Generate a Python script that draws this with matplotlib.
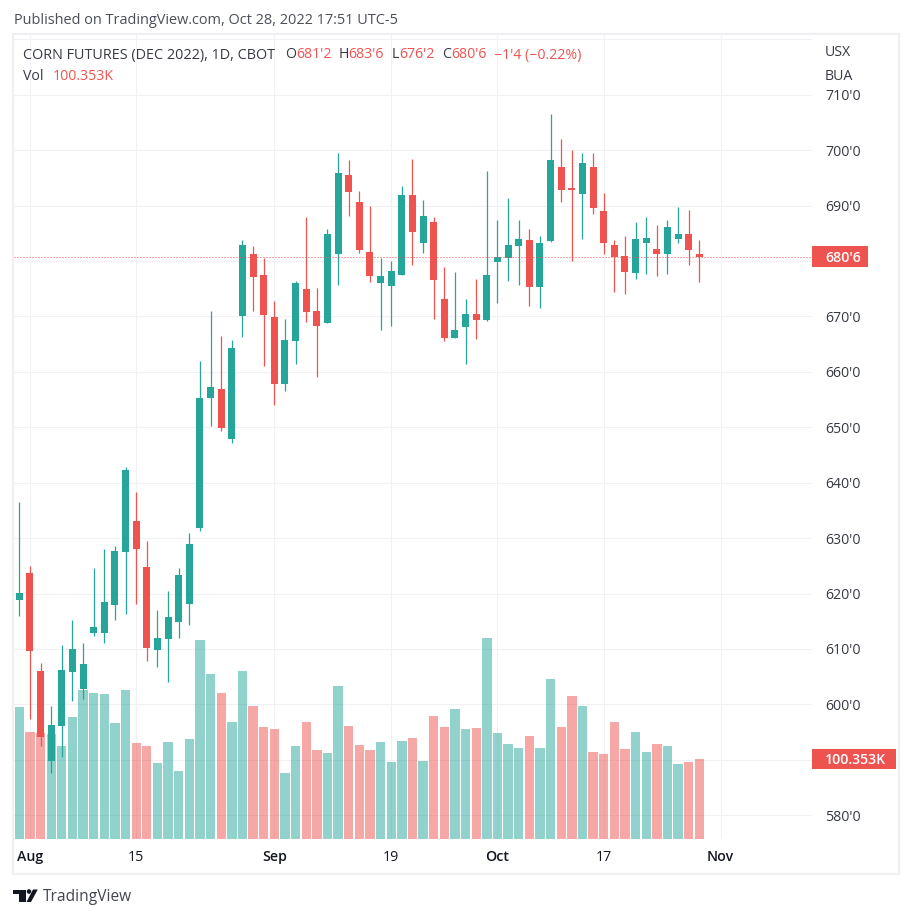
#!/usr/bin/env python3
"""Daily corn futures candles with volume, TradingView snapshot look."""
import matplotlib
matplotlib.use("Agg")
import matplotlib.pyplot as plt
import numpy as np
from matplotlib.patches import Circle, Polygon, Rectangle

opens = [618.8, 623.7, 606.0, 589.8, 596.1, 605.8, 602.8, 612.9, 612.9, 617.9, 627.5, 633.1, 624.8,
         609.8, 611.8, 614.9, 618.1, 631.8, 655.3, 656.9, 647.9, 670.1, 681.3, 677.5, 669.9, 657.8,
         665.6, 675.0, 671.0, 668.8, 681.3, 695.5, 690.7, 681.6, 676.0, 675.5, 677.5, 691.9, 683.3,
         687.1, 673.2, 666.1, 668.1, 670.4, 669.4, 679.8, 680.6, 682.7, 683.8, 675.3, 683.6, 697.0,
         693.2, 692.1, 697.0, 689.0, 682.9, 680.9, 677.9, 683.3, 682.2, 681.3, 684.0, 684.9, 681.25]
highs = [636.5, 625.0, 607.5, 599.7, 610.7, 615.2, 611.1, 624.6, 628.0, 628.6, 642.8, 638.3, 629.5,
         617.0, 620.4, 624.6, 630.9, 662.0, 671.0, 666.5, 665.8, 683.8, 682.7, 680.6, 672.8, 669.5,
         676.4, 688.0, 675.1, 685.8, 699.5, 698.2, 692.6, 689.9, 680.6, 680.0, 693.6, 698.4, 691.0,
         688.0, 678.9, 678.0, 673.2, 676.8, 696.3, 687.4, 691.4, 687.4, 685.8, 684.5, 706.6, 702.0,
         700.1, 699.5, 699.5, 692.3, 683.8, 684.5, 687.1, 688.0, 686.5, 687.4, 689.8, 689.2, 683.75]
lows = [615.9, 597.3, 592.5, 587.6, 590.5, 600.6, 601.0, 612.3, 611.1, 615.2, 616.3, 618.1, 607.8,
        606.7, 604.0, 612.0, 614.3, 631.3, 650.2, 649.3, 647.2, 666.3, 671.0, 661.1, 654.0, 656.5,
        661.4, 669.0, 659.1, 668.8, 675.7, 688.1, 681.5, 676.2, 667.6, 668.3, 677.5, 679.3, 681.5,
        669.5, 665.6, 666.1, 661.4, 665.9, 669.2, 672.4, 676.4, 675.7, 671.9, 671.5, 683.4, 690.7,
        680.0, 684.0, 688.5, 681.3, 674.4, 674.1, 676.8, 677.7, 677.3, 677.7, 683.3, 679.3, 676.25]
closes = [620.1, 609.6, 594.1, 596.3, 606.2, 610.0, 607.3, 613.9, 618.5, 627.7, 642.3, 628.0, 610.2,
          612.0, 615.8, 623.3, 628.9, 655.3, 657.3, 649.9, 664.3, 682.9, 677.1, 670.3, 657.8, 665.8,
          676.0, 670.8, 668.3, 684.9, 695.9, 692.5, 682.0, 677.3, 677.3, 678.2, 691.9, 685.3, 688.1,
          676.6, 666.1, 667.6, 670.4, 669.4, 677.5, 680.7, 682.9, 684.0, 675.3, 683.3, 698.2, 692.8,
          692.8, 697.7, 689.6, 683.3, 680.7, 678.0, 684.0, 684.2, 681.3, 686.2, 684.9, 682.0, 680.75]
volumes = [165.6, 134.2, 133.0, 131.7, 116.7, 153.0, 186.9, 183.1, 181.9, 145.5, 186.9, 120.4, 116.7,
           95.3, 121.7, 85.3, 125.4, 249.6, 207.0, 183.1, 146.8, 210.7, 166.8, 140.5, 138.0, 82.8,
           116.7, 146.8, 111.6, 107.9, 191.9, 141.7, 117.9, 111.6, 121.7, 96.6, 122.9, 126.7, 97.8,
           154.3, 140.5, 163.1, 138.0, 139.2, 252.1, 133.0, 119.2, 114.1, 129.2, 114.1, 200.7, 140.5,
           179.4, 166.8, 109.1, 106.6, 146.8, 112.9, 134.2, 109.1, 119.2, 116.7, 94.1, 96.6, 100.353]

price_ticks = [580, 590, 600, 610, 620, 630, 640, 650, 660, 670, 680, 690, 700, 710, 720]
price_labels = ["580'0", "", "600'0", "610'0", "620'0", "630'0", "640'0", "650'0", "660'0", "670'0",
                "", "690'0", "700'0", "710'0", ""]
date_ticks = [1, 11, 24, 35, 45, 55, 66]
date_labels = ["Aug", "15", "Sep", "19", "Oct", "17", "Nov"]
month_labels = {"Aug", "Sep", "Oct", "Nov"}
last_close = 680.75
last_volume = 100.353

GREEN = "#26A69A"
RED = "#EF5350"
GRID = "#F1F1F5"
BORDER = "#EFEFF4"
TEXT = "#131722"
FONT = "Open Sans"
SIZE = 10.2
W, H = 912, 918

plt.rcParams["font.family"] = [FONT, "DejaVu Sans"]

fig = plt.figure(figsize=(W / 100, H / 100), dpi=100, facecolor="white")

# overlay in pixel coordinates for the frame, header and logo, above the panes
page = fig.add_axes([0, 0, 1, 1], zorder=4)
page.set_xlim(0, W)
page.set_ylim(H, 0)
page.axis("off")
page.add_patch(Rectangle((13, 34), 886, 840, fill=False, edgecolor=BORDER, linewidth=1.6))

page.text(14, 20.5, "Published on TradingView.com, Oct 28, 2022 17:51 UTC-5", fontsize=10.45, color="#4A4E59", va="center")
page.text(23, 55, "CORN FUTURES (DEC 2022), 1D, CBOT", fontsize=10.4, color=TEXT, va="center", alpha=0.85)
legend_parts = [(285, "O", TEXT), (296, "681'2", RED), (339, "H", TEXT), (348, "683'6", RED),
                (391.5, "L", TEXT), (399, "676'2", RED), (442, "C", TEXT), (451, "680'6", RED),
                (494.5, "\u22121'4 (\u22120.22%)", RED)]
for px, part, color in legend_parts:
    page.text(px, 55, part, fontsize=SIZE, color=color, va="center", alpha=0.85 if color == TEXT else 1)
page.text(23, 76, "Vol", fontsize=SIZE, color=TEXT, va="center", alpha=0.85)
page.text(53, 76, "100.353K", fontsize=SIZE, color=RED, va="center")
page.text(825, 52, "USX", fontsize=SIZE, color=TEXT, va="center", alpha=0.85)
page.text(825, 76, "BUA", fontsize=SIZE, color=TEXT, va="center", alpha=0.85)

# logo
page.add_patch(Polygon([(13, 889.5), (25.7, 889.5), (25.7, 902), (19, 902), (19, 894), (13, 894)], color=TEXT, lw=0))
page.add_patch(Circle((29, 891.5), 2.3, color=TEXT, lw=0))
page.add_patch(Polygon([(33, 889.5), (37.8, 889.5), (31, 902), (26.5, 902)], color=TEXT, lw=0))
page.text(43, 897, "TradingView", fontsize=11.2, color=TEXT, va="center", alpha=0.8)

# pane limits picked so that pixels map onto the reference
rect = [14 / W, 1 - 839 / H, (812 - 14) / W, (839 - 35) / H]
xlim = (-0.5, 74.6)
price_lim = (575.69, 720.81)

ax_grid = fig.add_axes(rect, zorder=1)
ax_grid.set_xlim(xlim)
ax_grid.set_ylim(price_lim)
ax_grid.set_yticks(price_ticks)
ax_grid.set_yticklabels(price_labels, fontsize=SIZE, color=TEXT, alpha=0.85)
for tick in ax_grid.get_yticklabels():
    if tick.get_text() == "710'0":
        tick.set_alpha(0.55)
ax_grid.yaxis.tick_right()
ax_grid.set_xticks(date_ticks)
ax_grid.set_xticklabels(date_labels, fontsize=SIZE, color=TEXT)
for tick in ax_grid.get_xticklabels():
    if tick.get_text() in month_labels:
        tick.set_fontweight("semibold")
ax_grid.tick_params(axis="y", length=0, pad=9.3)
ax_grid.tick_params(axis="x", length=0, pad=8.2)
ax_grid.grid(True, color=GRID, linewidth=0.8)
ax_grid.set_axisbelow(True)
for spine in ax_grid.spines.values():
    spine.set_visible(False)

opens = np.array(opens)
closes = np.array(closes)
colors = [GREEN if c >= o else RED for o, c in zip(opens, closes)]
x = np.arange(len(opens))

ax_vol = fig.add_axes(rect, zorder=2, sharex=ax_grid)
ax_vol.patch.set_alpha(0)
ax_vol.bar(x, volumes, width=0.88, color=colors, alpha=0.5, linewidth=0)
ax_vol.set_ylim(0, 804 * 1.2544)
ax_vol.axis("off")

ax = fig.add_axes(rect, zorder=3, sharex=ax_grid, sharey=ax_grid)
ax.patch.set_alpha(0)
wicks = ax.vlines(x, lows, highs, colors=colors, linewidth=0.9)
wicks.set_snap(True)
ax.bar(x, np.abs(closes - opens), bottom=np.minimum(opens, closes), width=0.66, color=colors, linewidth=0)
ax.axhline(last_close, color=RED, linewidth=0.72, linestyle=(0, (1, 2)), snap=True)
ax.axis("off")

# last price and last volume tags sit on the scale
ax.add_patch(Rectangle((1, last_close - 1.9), 56 / 798, 3.8, color=RED, lw=0, clip_on=False,
                       transform=ax.get_yaxis_transform()))
ax.text(1 + 13 / 798, last_close, "680'6", color="white", fontsize=SIZE, va="center_baseline", fontweight="semibold",
        transform=ax.get_yaxis_transform(), clip_on=False)
ax_vol.add_patch(Rectangle((1, last_volume - 13), 84 / 798, 26, color=RED, lw=0, clip_on=False,
                           transform=ax_vol.get_yaxis_transform()))
ax_vol.text(1 + 13 / 798, last_volume, "100.353K", color="white", fontsize=SIZE, va="center_baseline", fontweight="semibold",
            transform=ax_vol.get_yaxis_transform(), clip_on=False)

fig.savefig("out.png", dpi=100)
